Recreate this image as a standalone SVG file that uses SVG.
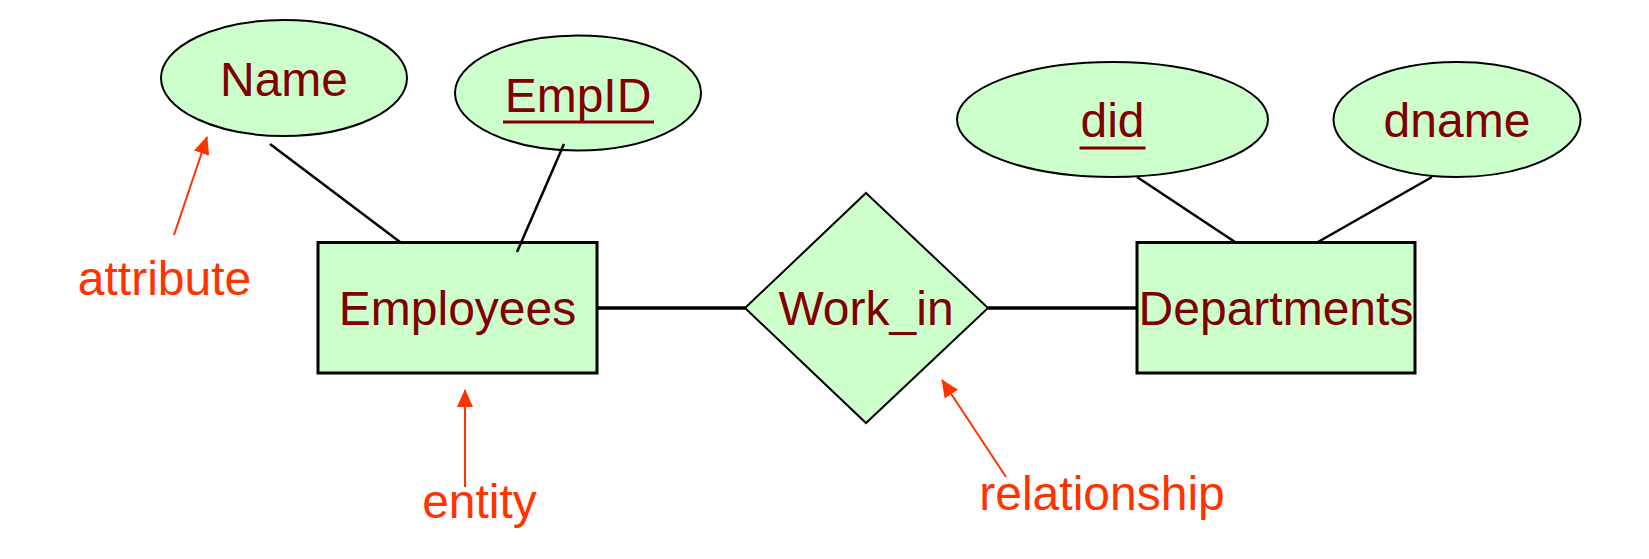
<svg xmlns="http://www.w3.org/2000/svg" width="1649" height="559" viewBox="0 0 1649 559">
  <defs>
    <style>
      .attr { fill: #ccffcc; stroke: #000; stroke-width: 2; }
      .ent { fill: #ccffcc; stroke: #000; stroke-width: 3; }
      .rel { fill: #ccffcc; stroke: #000; stroke-width: 2; }
      .lbl { font-family: "Liberation Sans", Arial, sans-serif; font-size: 48px; fill: #800000; text-anchor: middle; }
      .note { font-family: "Liberation Sans", Arial, sans-serif; font-size: 48px; fill: #ff3300; text-anchor: middle; }
      .ul { stroke: #800000; stroke-width: 3; }
      .conn { stroke: #000; stroke-width: 2.5; fill: none; }
      .conn-h { stroke: #000; stroke-width: 3.5; fill: none; }
      .ptr { stroke: #ff3300; stroke-width: 2; fill: none; marker-end: url(#redArrow); }
    </style>
    <marker id="redArrow" markerUnits="userSpaceOnUse" markerWidth="18" markerHeight="18" viewBox="0 0 18 18" refX="17" refY="9" orient="auto">
      <path d="M0,1 L18,9 L0,17 Z" fill="#ff3300"/>
    </marker>
  </defs>
  <rect width="1649" height="559" fill="#ffffff"/>

  <g id="node-name">
    <ellipse class="attr" cx="284" cy="78" rx="123" ry="58"/>
    <text class="lbl" x="284" y="96">Name</text>
  </g>
  <g id="node-empid">
    <ellipse class="attr" cx="578" cy="93" rx="123" ry="57.5"/>
    <text class="lbl" x="578" y="112">EmpID</text>
    <line class="ul" x1="503" y1="122" x2="654" y2="122"/>
  </g>
  <g id="node-did">
    <ellipse class="attr" cx="1112.5" cy="119.5" rx="155.5" ry="57.5"/>
    <text class="lbl" x="1112.5" y="137">did</text>
    <line class="ul" x1="1079.5" y1="148" x2="1145.5" y2="148"/>
  </g>
  <g id="node-dname">
    <ellipse class="attr" cx="1457" cy="119.5" rx="123.5" ry="57.5"/>
    <text class="lbl" x="1457" y="137">dname</text>
  </g>
  <g id="node-employees">
    <rect class="ent" x="318" y="242.5" width="279" height="130.5"/>
    <text class="lbl" x="457.5" y="325">Employees</text>
  </g>
  <g id="node-departments">
    <rect class="ent" x="1137" y="242.5" width="278" height="130.5"/>
    <text class="lbl" x="1276" y="325">Departments</text>
  </g>
  <g id="node-work_in">
    <polygon class="rel" points="866,193 988,308 866,423 745,308"/>
    <text class="lbl" x="866" y="325">Work_in</text>
  </g>

  <g id="connectors">
    <line class="conn" x1="270" y1="144" x2="400" y2="242"/>
    <line class="conn" x1="564" y1="144" x2="517" y2="252"/>
    <line class="conn" x1="1137" y1="177" x2="1235" y2="242"/>
    <line class="conn" x1="1432" y1="177" x2="1318" y2="242"/>
    <line class="conn-h" x1="598" y1="308" x2="745" y2="308"/>
    <line class="conn-h" x1="988" y1="308" x2="1136" y2="308"/>
  </g>

  <g id="annotations">
    <line class="ptr" x1="174" y1="235" x2="207" y2="137"/>
    <text class="note" x="164.5" y="295">attribute</text>
    <line class="ptr" x1="465" y1="487" x2="465" y2="390"/>
    <text class="note" x="479.5" y="518">entity</text>
    <line class="ptr" x1="1006" y1="477" x2="942" y2="380"/>
    <text class="note" x="1102" y="510">relationship</text>
  </g>
</svg>
